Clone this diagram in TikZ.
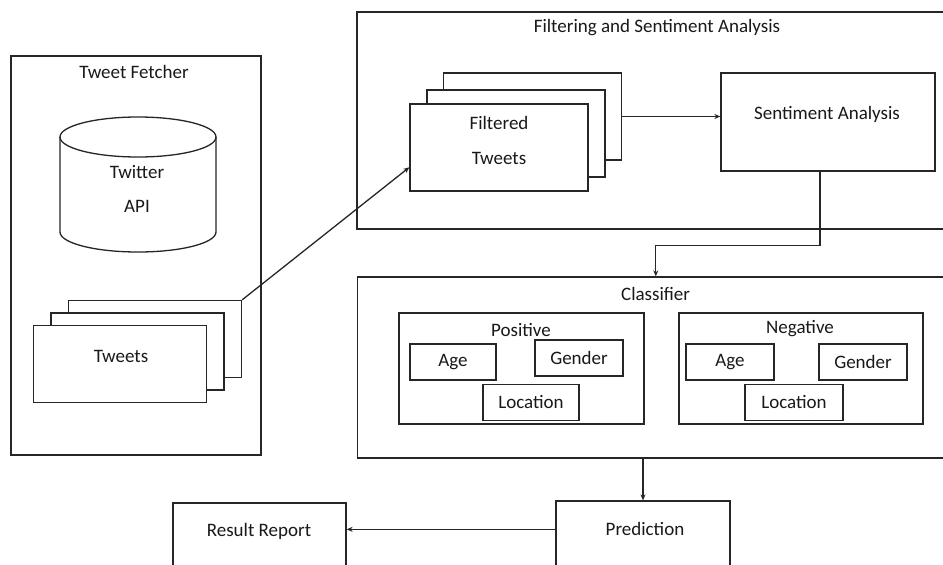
\documentclass[tikz,border=0pt]{standalone}
\usepackage{fontspec}
\setmainfont{Carlito}
\usetikzlibrary{arrows.meta,calc}
\begin{document}
\begin{tikzpicture}[x=1pt,y=-1pt,
  every node/.style={font=\fontsize{19}{21}\selectfont, text=black!90},
  box/.style={draw=black!85, line width=1.3pt, fill=white, inner sep=0pt},
  txt/.style={inner sep=0pt},
  conn/.style={draw=black!85, line width=1.3pt},
  arr/.style={conn, -{Stealth[length=6pt,width=5pt]}},
  ]
\useasboundingbox (0,0) rectangle (943,565);
\clip (0,0) rectangle (943,565);
% Tweet Fetcher
\node[box, minimum width=250pt, minimum height=399pt] (tf) at (136,255.5) {};
\node[txt] (tft) at (134,72) {Tweet Fetcher};
% cylinder
\draw[conn, fill=white] (60,137) -- (60,232) arc[start angle=180, end angle=0, x radius=78, y radius=20] -- (216,137);
\draw[conn] (138,137) ellipse[x radius=78, y radius=20];
\node[txt] (tw1) at (137,172) {Twitter};
\node[txt] (tw2) at (137,206) {API};
% tweets stack
\node[box, minimum width=173pt, minimum height=77pt] (tb) at (155,339) {};
\node[box, minimum width=173pt, minimum height=77pt] (tm) at (137.5,351.5) {};
\node[box, minimum width=173pt, minimum height=77pt] (tfr) at (120,364) {};
\node[txt] (twt) at (121,356) {Tweets};
% Filtering and Sentiment Analysis
\node[box, minimum width=603pt, minimum height=217pt] (fsa) at (658.5,120.5) {};
\node[txt] (fsat) at (657,28) {Filtering and Sentiment Analysis};
\node[box, minimum width=178pt, minimum height=87pt] (fb) at (532.5,116.5) {};
\node[box, minimum width=178pt, minimum height=87pt] (fm) at (516,133.5) {};
\node[box, minimum width=178pt, minimum height=87pt] (ff) at (499,147.5) {};
\node[txt] (fft1) at (499,123) {Filtered};
\node[txt] (fft2) at (499,158) {Tweets};
\node[box, minimum width=214pt, minimum height=98pt] (sa) at (828,122) {};
\node[txt] (sat) at (827,114) {Sentiment Analysis};
% Classifier
\node[box, minimum width=602pt, minimum height=181pt] (cl) at (658.8,367.5) {};
\node[txt] (clt) at (655.6,293.7) {Classifier};
\node[box, minimum width=245pt, minimum height=111pt] (pos) at (521.5,368.5) {};
\node[txt] (post) at (521,330) {Positive};
\node[box, minimum width=86pt, minimum height=36pt] (pa) at (453,362) {Age};
\node[box, minimum width=88pt, minimum height=36pt] (pg) at (579,358) {Gender};
\node[box, minimum width=96pt, minimum height=36pt] (pl) at (531,402.3) {Location};
\node[box, minimum width=244pt, minimum height=111pt] (neg) at (801,368.5) {};
\node[txt] (negt) at (800,329) {Negative};
\node[box, minimum width=88pt, minimum height=36pt] (na) at (730,362) {Age};
\node[box, minimum width=88pt, minimum height=36pt] (ng) at (863,362) {Gender};
\node[box, minimum width=98pt, minimum height=36pt] (nl) at (794,402.3) {Location};
% Prediction and Result Report
\node[box, minimum width=174pt, minimum height=98pt] (pr) at (643,550) {};
\node[txt] (prt) at (645,529) {Prediction};
\node[box, minimum width=173pt, minimum height=97pt] (rr) at (259.5,551.5) {};
\node[txt] (rrt) at (259,531) {Result Report};
% connectors
\draw[arr] (tb.north east) -- ($(ff.south west)!0.276!(ff.north west)$);
\draw[arr] (fb.east) -- (sa.west |- fb.east);
\coordinate (sout) at ($(sa.south west)!0.463!(sa.south east)$);
\coordinate (cin) at ($(cl.north west)!0.495!(cl.north east)$);
\draw[arr] (sout) -- ++(0,74) -| (cin);
\draw[arr] (pr.north |- cl.south) -- (pr.north);
\coordinate (pout) at ($(pr.north west)+(0,29)$);
\draw[arr] (pout) -- (rr.east |- pout);
\end{tikzpicture}
\end{document}
